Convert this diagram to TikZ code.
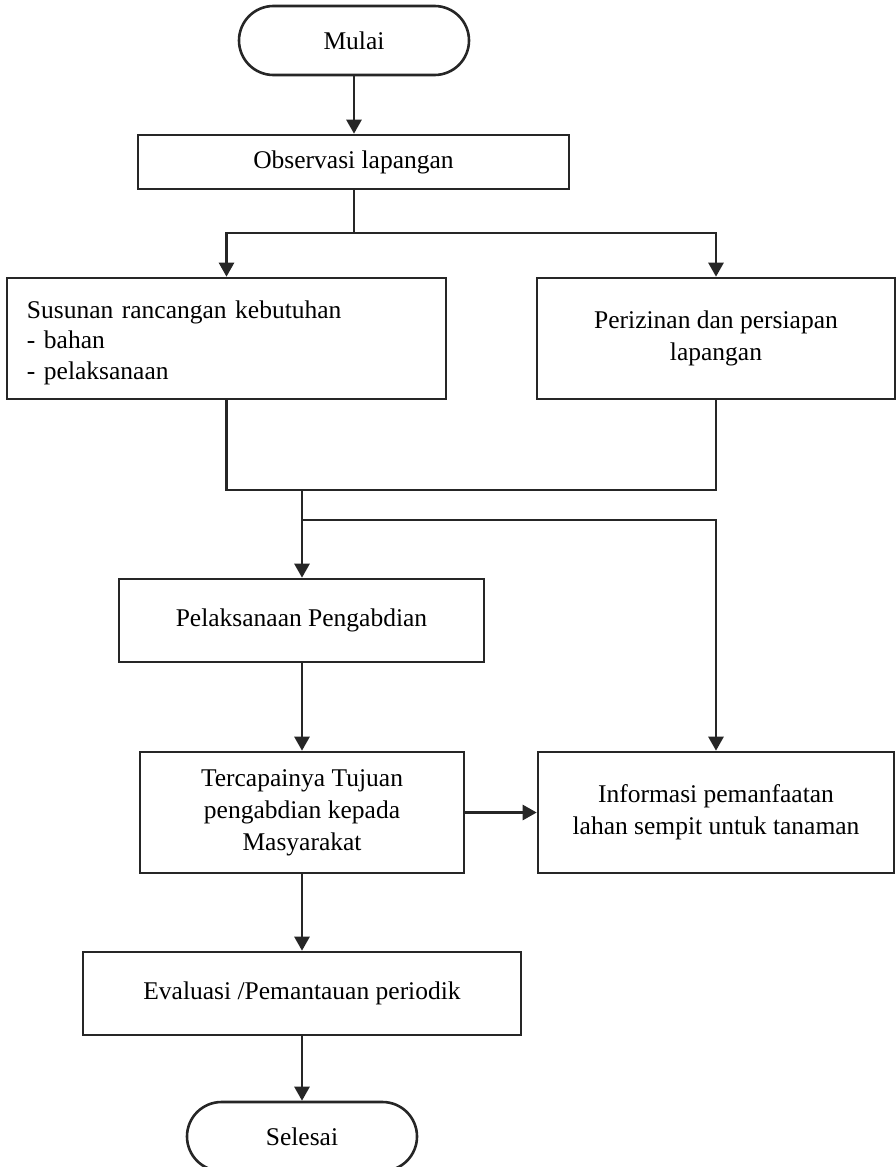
\documentclass[tikz,border=0pt]{standalone}
\usepackage{fontspec}
\setmainfont{Liberation Serif}
\usetikzlibrary{arrows.meta}
\definecolor{lncol}{HTML}{262626}
\begin{document}
\begin{tikzpicture}[x=1pt,y=-1pt,
  box/.style={draw=lncol, line width=2.6pt, rectangle, inner sep=0pt, align=center,
              font=\fontsize{25.5}{32}\selectfont, text=black},
  term/.style={box, rounded corners=34.5pt},
  arr/.style={draw=lncol, line width=2.6pt, -{Triangle[length=14pt,width=15pt]}},
  conn/.style={draw=lncol, line width=2.6pt}]
\useasboundingbox (0,0) rectangle (896,1167);

\node[term, minimum width=230pt, minimum height=69pt] (mulai) at (354,40.5) {Mulai};
\node[box, minimum width=431pt, minimum height=54pt] (obs) at (353.5,162) {Observasi lapangan};
\node[box, minimum width=439pt, minimum height=121pt, text width=399pt, inner xsep=20pt, align=left,
      font=\fontsize{25.5}{30.5}\selectfont] (sus) at (226.5,338.5)
  {\rule{0pt}{26pt}Susunan rancangan kebutuhan\\- bahan\\- pelaksanaan};
\node[box, minimum width=358pt, minimum height=121pt] (per) at (716,338.5) {Perizinan dan persiapan\\lapangan};
\node[box, minimum width=365pt, minimum height=83pt] (pel) at (301.5,620.5) {Pelaksanaan Pengabdian};
\node[box, minimum width=324pt, minimum height=121pt] (ter) at (302,812.5) {Tercapainya Tujuan\\pengabdian kepada\\Masyarakat};
\node[box, minimum width=356pt, minimum height=121pt] (inf) at (716,812.5) {Informasi pemanfaatan\\lahan sempit untuk tanaman};
\node[box, minimum width=438pt, minimum height=83pt] (eva) at (302,993.5) {Evaluasi /Pemantauan periodik};
\node[term, minimum width=230pt, minimum height=69pt] (sel) at (302,1136.5) {Selesai};

\coordinate (j1) at (354,233);
\coordinate (j2) at (302,490);
\coordinate (j3) at (302,520);

\draw[arr] (mulai.south) -- (mulai.south |- obs.north);
\draw[conn] (obs.south -| j1) -- (j1);
\draw[arr] (j1) -| (sus.north);
\draw[arr] (j1) -| (per.north);
\draw[conn] (sus.south) |- (j2);
\draw[conn] (per.south) |- (j2);
\draw[arr] (j2) -- (j2 |- pel.north);
\draw[arr] (j3) -| (inf.north);
\draw[arr] (pel.south -| ter.north) -- (ter.north);
\draw[arr] (ter.east) -- (inf.west);
\draw[arr] (ter.south) -- (eva.north);
\draw[arr] (eva.south) -- (sel.north);
\end{tikzpicture}
\end{document}
